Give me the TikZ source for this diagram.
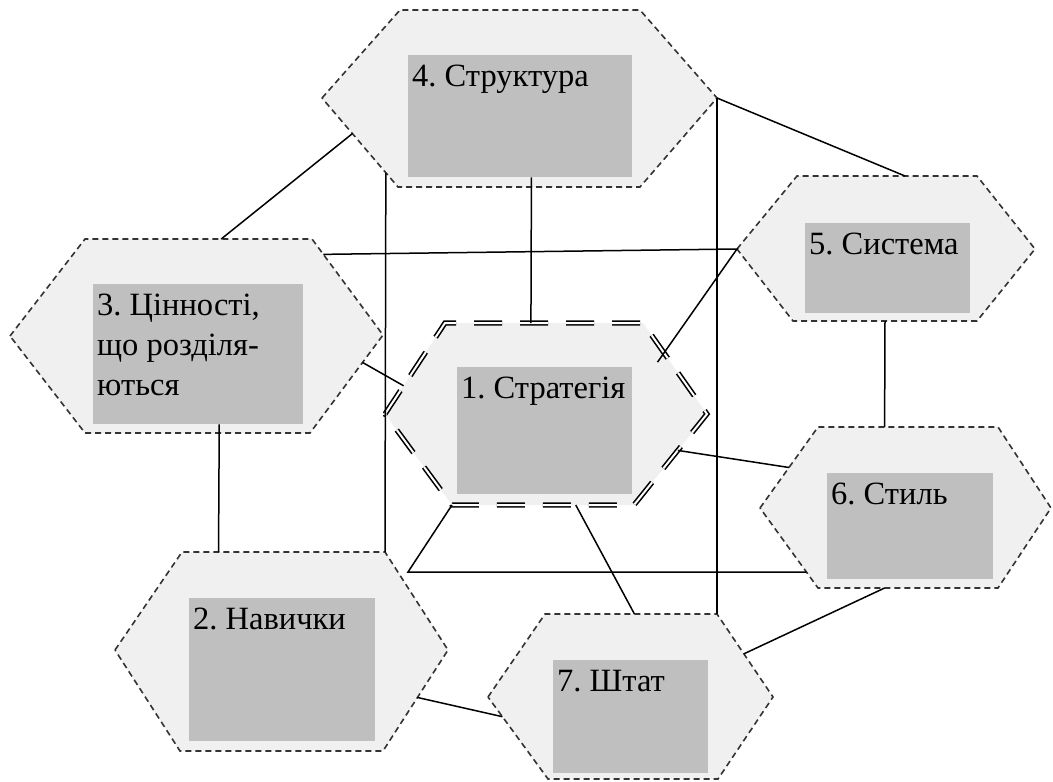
\documentclass[tikz,border=0pt]{standalone}
\usepackage{fontspec}
\setmainfont{Liberation Serif}
\usetikzlibrary{calc}

\tikzset{
	hexa/.style={draw=black!80, fill=black!6, line width=1.6pt, dash pattern=on 6pt off 4pt},
	stghexa/.style={draw=black, fill=black!6, line width=1.6pt, double=white, double distance=2pt, dash pattern=on 28pt off 18pt},
	graybox/.style={fill=black!25, inner xsep=4pt, inner ysep=3pt, anchor=north west},
	link/.style={draw=black, line width=1.5pt}
}
\newcommand{\boxtext}[3]{\parbox[t][#2][t]{#1}{\raggedright\rule{0pt}{28pt}#3}}

\begin{document}
\begin{tikzpicture}[x=1pt, y=-1pt, font=\fontsize{32.5}{40}\selectfont]
	\useasboundingbox (0,0) rectangle (1053,782);
	% Hexagons
	\draw[hexa] (322,98) coordinate (str-w) -- (400,10) coordinate (str-nw) -- (640,10) coordinate (str-ne) -- (717,98) coordinate (str-e) -- (640,187) coordinate (str-se) -- (398,187) coordinate (str-sw) -- cycle;
	\draw[hexa] (10,336) coordinate (val-w) -- (85,239) coordinate (val-nw) -- (312,239) coordinate (val-ne) -- (383,335) coordinate (val-e) -- (310,433) coordinate (val-se) -- (85,433) coordinate (val-sw) -- cycle;
	\draw[hexa] (737,249) coordinate (sys-w) -- (797,176) coordinate (sys-nw) -- (977,176) coordinate (sys-ne) -- (1035,249) coordinate (sys-e) -- (977,321) coordinate (sys-se) -- (793,321) coordinate (sys-sw) -- cycle;
	\draw[hexa] (760,508) coordinate (sty-w) -- (818,427) coordinate (sty-nw) -- (998,427) coordinate (sty-ne) -- (1051,508) coordinate (sty-e) -- (998,588) coordinate (sty-se) -- (818,588) coordinate (sty-sw) -- cycle;
	\draw[hexa] (115,650) coordinate (ski-w) -- (182,552) coordinate (ski-nw) -- (385,552) coordinate (ski-ne) -- (448,650) coordinate (ski-e) -- (383,751) coordinate (ski-se) -- (180,751) coordinate (ski-sw) -- cycle;
	\draw[hexa] (488,697) coordinate (stf-w) -- (545,614) coordinate (stf-nw) -- (717,614) coordinate (stf-ne) -- (773,697) coordinate (stf-e) -- (718,779) coordinate (stf-se) -- (548,779) coordinate (stf-sw) -- cycle;
	% Strategy, double dashed
	\draw[stghexa] (385,414) coordinate (stg-w) -- (445,323) coordinate (stg-nw) -- (643,323) coordinate (stg-ne) -- (707,414) coordinate (stg-e) -- (634,505) coordinate (stg-se) -- (452,505) coordinate (stg-sw) -- cycle;

	% Boxes
	\node[graybox] (r1) at (457,367) {\boxtext{167pt}{121pt}{1.~Стратегія}};
	\node[graybox] (r2) at (189,598) {\boxtext{178pt}{137pt}{2.~Навички}};
	\node[graybox] (r3) at (93,284) {\boxtext{202pt}{134pt}{3.~Цінності,\\що розділя-\\ються}};
	\node[graybox] (r4) at (408,55) {\boxtext{216pt}{116pt}{4.~Структура}};
	\node[graybox] (r5) at (805,223) {\boxtext{157pt}{84pt}{5.~Система}};
	\node[graybox] (r6) at (827,473) {\boxtext{158pt}{100pt}{6.~Стиль}};
	\node[graybox] (r7) at (553,660) {\boxtext{147pt}{107pt}{7.~Штат}};

	% Links
	\draw[link] ($(str-w)!.4!(str-sw)$) -- ($(val-nw)!.6!(val-ne)$);
	\draw[link] ($(str-w)!.84!(str-sw)$) -- (ski-ne);
	\draw[link] ($(r4.south west)!.55!(r4.south east)$) -- ($(stg-nw)!.434!(stg-ne)$);
	\draw[link] (str-e) -- (stf-ne);
	\draw[link] (str-e) -- ($(sys-nw)!.6!(sys-ne)$);
	\draw[link] ($(val-ne)!.16!(val-e)$) -- (sys-w) -- ($(stg-ne)!.43!(stg-e)+(-13,0)$);
	\draw[link] ($(val-e)!.28!(val-se)$) -- ($(stg-nw)!.69!(stg-w)$);
	\draw[link] ($(r3.south west)!.6!(r3.south east)$) -- ($(ski-nw)!.18!(ski-ne)$);
	\draw[link] ($(sys-sw)!.5!(sys-se)$) -- ($(sty-nw)!.37!(sty-ne)$);
	\draw[link] ($(stg-e)!.4!(stg-se)$) -- ($(sty-w)!.5!(sty-nw)$);
	\draw[link] (stg-sw) -- ++(-44,67) -- ($(sty-w)!.8!(sty-sw)$);
	\draw[link] ($(stg-sw)!.68!(stg-se)$) -- ($(stf-nw)!.52!(stf-ne)$);
	\draw[link] ($(stf-ne)!.48!(stf-e)$) -- ($(sty-sw)!.37!(sty-se)$);
	\draw[link] ($(ski-e)!.47!(ski-se)$) -- ($(stf-w)!.24!(stf-sw)$);
\end{tikzpicture}
\end{document}
